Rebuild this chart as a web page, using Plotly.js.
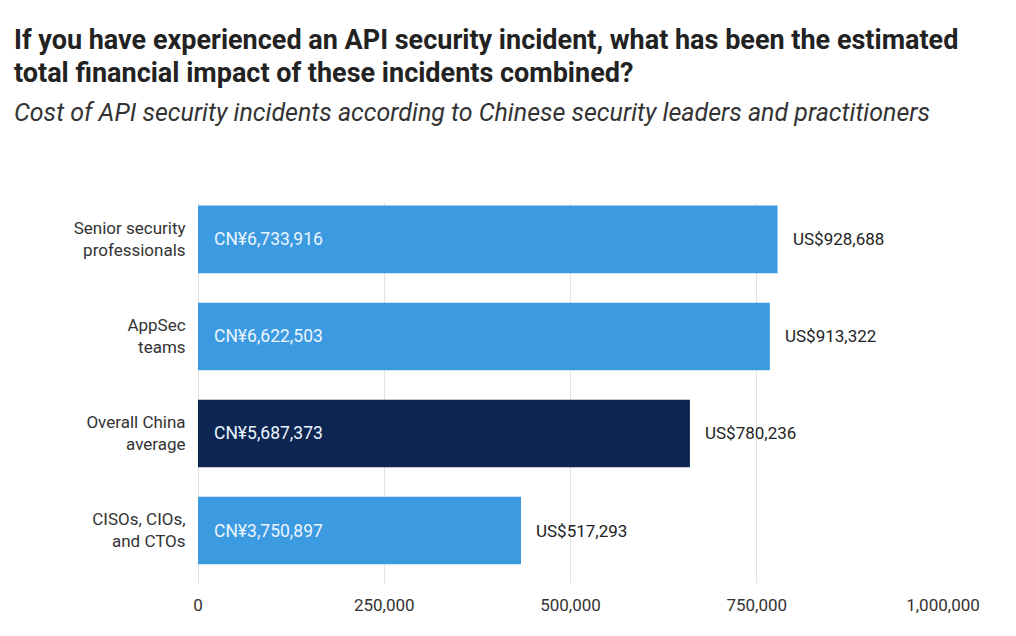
<!DOCTYPE html>
<html><head><meta charset="utf-8">
<script src="https://cdn.plot.ly/plotly-3.0.1.min.js"></script>
<style>body{margin:0;background:#fff}#c{width:1016px;height:636px}</style>
</head><body><div id="c"></div>
<script>
const categories = ["Senior security<br>professionals", "AppSec<br>teams", "Overall China<br>average", "CISOs, CIOs,<br>and CTOs"];
const barValues = [777900, 767600, 660300, 433600];
const cnyLabels = ["CN¥6,733,916", "CN¥6,622,503", "CN¥5,687,373", "CN¥3,750,897"];
const usdLabels = ["US$928,688", "US$913,322", "US$780,236", "US$517,293"];
const barColors = ["#3c9be0", "#3c9be0", "#0c2651", "#3c9be0"];
const tickVals = [0, 250000, 500000, 750000, 1000000];
const tickText = ["0", "250,000", "500,000", "750,000", "1,000,000"];
const titleLines = ["If you have experienced an API security incident, what has been the estimated",
                    "total financial impact of these incidents combined?"];
const subtitle = "Cost of API security incidents according to Chinese security leaders and practitioners";

const font = "Roboto, 'Open Sans', sans-serif";
const W = 1016, H = 636, L = 198, R = 73, T = 203, B = 53;
const pw = W - L - R, ph = H - T - B;
const px = x => (x - L) / pw;
const py = y => (H - B - y) / ph;

const annotations = [];
categories.forEach((c, i) => {
  annotations.push({x: 0, y: c, xref: 'x', yref: 'y', text: cnyLabels[i], showarrow: false,
    xanchor: 'left', xshift: 14, font: {family: font, size: 17.5, color: '#eaf4ff'}});
  annotations.push({x: barValues[i], y: c, xref: 'x', yref: 'y', text: usdLabels[i], showarrow: false,
    xanchor: 'left', xshift: 13, font: {family: font, size: 17, color: '#222'}});
});
annotations.push({xref: 'paper', yref: 'paper', x: px(12), y: py(40), xanchor: 'left', yanchor: 'middle',
  showarrow: false, text: "<b>" + titleLines[0] + "</b>", font: {family: font, size: 27, color: '#222'}});
annotations.push({xref: 'paper', yref: 'paper', x: px(12), y: py(73), xanchor: 'left', yanchor: 'middle',
  showarrow: false, text: "<b>" + titleLines[1] + "</b>", font: {family: font, size: 27, color: '#222'}});
annotations.push({xref: 'paper', yref: 'paper', x: px(12), y: py(112), xanchor: 'left', yanchor: 'middle',
  showarrow: false, text: "<i>" + subtitle + "</i>", font: {family: font, size: 25, color: '#333'}});

Plotly.newPlot('c', [{
  type: 'bar', orientation: 'h', y: categories, x: barValues,
  marker: {color: barColors}, hoverinfo: 'none', width: 0.696
}], {
  width: W, height: H,
  margin: {l: L, r: R, t: T, b: B},
  paper_bgcolor: '#fff', plot_bgcolor: '#fff',
  showlegend: false,
  font: {family: font, size: 17, color: '#333'},
  xaxis: {range: [0, 1000000], tickvals: tickVals, ticktext: tickText, showgrid: true,
    gridcolor: '#e3e3e3', gridwidth: 1, zeroline: true, zerolinecolor: '#e3e3e3', zerolinewidth: 1,
    showline: false, ticks: 'outside', ticklen: 7, tickcolor: 'rgba(0,0,0,0)',
    tickfont: {family: font, size: 17, color: '#333'}, fixedrange: true},
  yaxis: {range: [3.541, -0.375], showgrid: false, zeroline: false, showline: false,
    ticks: 'outside', ticklen: 8, tickcolor: 'rgba(0,0,0,0)',
    tickfont: {family: font, size: 17, color: '#333'}, fixedrange: true},
  annotations: annotations
}, {displayModeBar: false, staticPlot: true});
</script></body></html>
